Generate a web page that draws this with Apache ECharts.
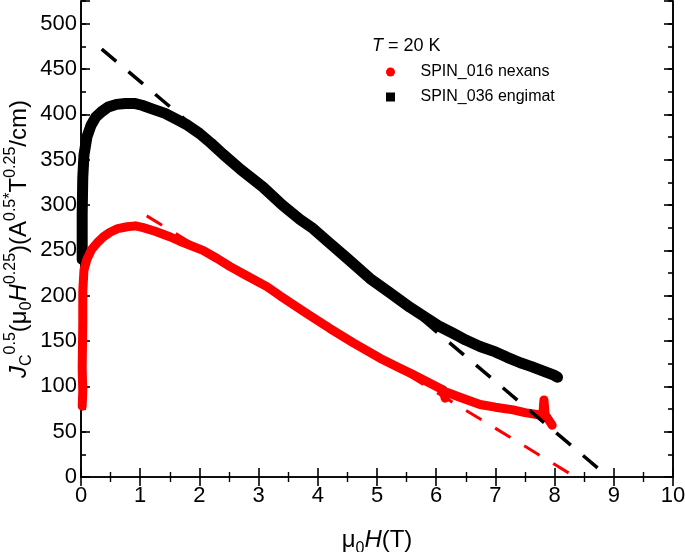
<!DOCTYPE html>
<html>
<head>
<meta charset="utf-8">
<script src="https://cdn.jsdelivr.net/npm/echarts@6/dist/echarts.min.js"></script>
<style>html,body{margin:0;padding:0;background:#fff}#c{width:685px;height:552px}</style>
</head>
<body>
<div id="c"></div>
<script>
// ---- data ----
const blackName = 'SPIN_036 engimat';
const redName = 'SPIN_016 nexans';
const tempLabel = ' = 20 K';

const blackH = [0.02,0.02,0.03,0.05,0.1,0.17,0.25,0.35,0.46,0.6,0.75,0.9,1.03,1.2,1.42,1.6,1.8,2.0,2.2,2.4,2.7,3.07,3.4,3.7,3.92,4.2,4.5,4.88,5.2,5.56,5.8,6.06,6.3,6.5,6.74,7.0,7.2,7.42,7.6,7.8,8.0,8.05];
const blackJ = [240,290,330,355,375,388,397,403,408,411,412,412,410,406,401,395,388,379,368,356,339,320,300,284,274,258,241,219,204,187,177,166,158,151,144,138,132,126,122,117,112,110];

const redH = [0.02,0.03,0.02,0.03,0.03,0.05,0.1,0.18,0.27,0.38,0.49,0.62,0.78,0.92,1.05,1.25,1.5,1.67,2.06,2.3,2.52,2.8,3.14,3.36,3.8,4.2,4.6,5.05,5.39,5.61,6.06,6.12,6.15,6.2,6.4,6.74,7.0,7.3,7.5,7.7,7.8,7.82,7.84,7.9,7.96];
const redJ = [78,95,120,170,205,228,240,251,258,265,270,274,276,277,275,271,265,260,250,241,232,222,210,200,181,164,148,131,120,113,98,96,87,93,88,80,77,74,71,69,68,85,69,63,57];

const fitBlackH = [0.35, 8.91];
const fitBlackJ = [472, 0];
const fitRedH = [1.11, 8.35];
const fitRedJ = [288, 0];

const xMin = 0, xMax = 10, xStep = 1;
const yMin = 0, yMax = 525, yStep = 50, yMinorStep = 25;

const zip = (a, b) => a.map((v, i) => [v, b[i]]);

const FONT = 'Liberation Sans, Arial, sans-serif';
const black = '#000000';
const red = '#ff0000';

const chart = echarts.init(document.getElementById('c'), null, {renderer: 'canvas'});

const majorX = (pos, show) => ({
  type: 'value', gridIndex: 0, position: pos, min: xMin, max: xMax, interval: xStep,
  axisLine: {show: true, lineStyle: {color: black, width: 1.6}},
  axisTick: {show: true, inside: true, length: 9, lineStyle: {color: black, width: 1.6}},
  minorTick: {show: true, splitNumber: 2, length: 5, lineStyle: {color: black, width: 1.4}},
  splitLine: {show: false},
  axisLabel: {show: show, fontSize: 22, fontFamily: FONT, color: black, margin: 8}
});

const yAxisDef = (pos, show, step, len) => ({
  type: 'value', gridIndex: 0, position: pos, min: yMin, max: yMax, interval: step,
  axisLine: {show: true, lineStyle: {color: black, width: 1.6}},
  axisTick: {show: true, inside: true, length: len, lineStyle: {color: black, width: 1.6}},
  splitLine: {show: false},
  axisLabel: {show: show, fontSize: 22, fontFamily: FONT, color: black, margin: 4,
    formatter: v => (v % yStep === 0 && v <= 500) ? String(v) : ''}
});

const xMain = majorX('bottom', true);
xMain.name = '{t|μ}{sub|0}{i|H}{t|(T)}';
xMain.nameLocation = 'middle';
xMain.nameGap = 46;
xMain.nameMoveOverlap = false;
xMain.nameTextStyle = {
  fontSize: 24, fontFamily: FONT, color: black, lineHeight: 34,
  rich: {
    t: {fontSize: 24, fontFamily: FONT, lineHeight: 34},
    i: {fontSize: 24, fontFamily: FONT, fontStyle: 'italic', lineHeight: 34},
    sub: {fontSize: 16, fontFamily: FONT, lineHeight: 16, verticalAlign: 'bottom'}
  }
};

const yMain = yAxisDef('left', true, yStep, 9);
yMain.name = '{i|J}{sub|C}{sup|0.5}{t|(μ}{sub|0}{i|H}{sup|0.25}{t|)(A}{sup|0.5*}{t|T}{sup|0.25}{t|/cm)}';
yMain.nameLocation = 'middle';
yMain.nameGap = 46;
yMain.nameRotate = 90;
yMain.nameMoveOverlap = false;
yMain.nameTextStyle = {
  fontSize: 24, fontFamily: FONT, color: black, lineHeight: 32,
  rich: {
    t: {fontSize: 24, fontFamily: FONT, lineHeight: 32},
    i: {fontSize: 24, fontFamily: FONT, fontStyle: 'italic', lineHeight: 32},
    sup: {fontSize: 16, fontFamily: FONT, lineHeight: 16, verticalAlign: 'top'},
    sub: {fontSize: 16, fontFamily: FONT, lineHeight: 16, verticalAlign: 'bottom'}
  }
};

const option = {
  backgroundColor: '#ffffff',
  animation: false,
  grid: {left: 81, right: 12, top: 1, bottom: 75, containLabel: false, outerBoundsMode: 'none'},
  xAxis: [xMain, majorX('top', false)],
  yAxis: [
    yMain,
    yAxisDef('left', false, yMinorStep, 5),
    yAxisDef('right', false, yStep, 9),
    yAxisDef('right', false, yMinorStep, 5)
  ],
  legend: {
    orient: 'vertical', left: 386, top: 63, padding: 0,
    itemWidth: 50, itemHeight: 9, itemGap: 7,
    textStyle: {fontSize: 16, fontFamily: FONT, color: black, lineHeight: 18},
    data: [
      {name: redName, icon: 'circle'},
      {name: blackName, icon: 'path://M0,0H8V8H0Z'}
    ]
  },
  graphic: [{
    type: 'text', left: 372, top: 37,
    style: {
      text: '{i|T}' + tempLabel,
      rich: {i: {fontStyle: 'italic', fontSize: 18, fontFamily: FONT}},
      fontSize: 18, fontFamily: FONT, fill: black
    }
  }],
  series: [
    {
      name: blackName, type: 'line', xAxisIndex: 0, yAxisIndex: 0,
      data: zip(blackH, blackJ), showSymbol: false, symbol: 'none',
      lineStyle: {color: black, width: 11, cap: 'round', join: 'round'},
      itemStyle: {color: black}, z: 2
    },
    {
      name: redName, type: 'line', xAxisIndex: 0, yAxisIndex: 0,
      data: zip(redH, redJ), showSymbol: false, symbol: 'none',
      lineStyle: {color: red, width: 9, cap: 'round', join: 'round'},
      itemStyle: {color: red}, z: 3
    },
    {
      name: 'fit black', type: 'line', xAxisIndex: 0, yAxisIndex: 0,
      data: zip(fitBlackH, fitBlackJ), showSymbol: false, symbol: 'none',
      lineStyle: {color: black, width: 3.5, type: [19, 16]}, z: 5, silent: true
    },
    {
      name: 'fit red', type: 'line', xAxisIndex: 0, yAxisIndex: 0,
      data: zip(fitRedH, fitRedJ), showSymbol: false, symbol: 'none',
      lineStyle: {color: red, width: 3, type: [18, 16]}, z: 4, silent: true
    }
  ]
};
chart.setOption(option);
</script>
</body>
</html>
